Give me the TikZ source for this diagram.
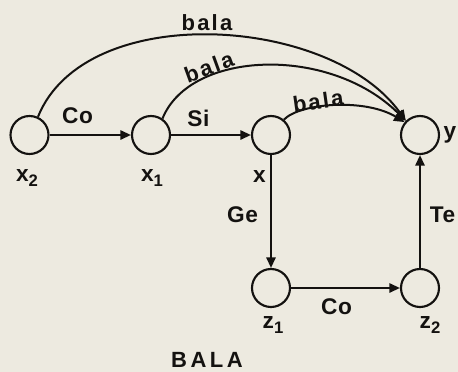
\documentclass[tikz,border=0pt]{standalone}
\usepackage{fontspec}
\setmainfont{Liberation Sans}
\usetikzlibrary{arrows.meta}
\definecolor{bgc}{RGB}{237,234,224}
\definecolor{ink}{RGB}{20,18,16}
\newcommand{\mysub}[1]{\raisebox{-0.45ex}{\fontsize{12.5}{13}\selectfont #1}}
\begin{document}
\begin{tikzpicture}[x=0.75pt,y=-0.75pt,
  st/.style={circle,draw=ink,line width=1.6pt,minimum size=28.5pt,inner sep=0pt},
  lbl/.style={text=ink,font=\bfseries\fontsize{17}{19}\selectfont\addfontfeature{LetterSpace=3},inner sep=0pt},
  bl/.style={lbl,font=\bfseries\fontsize{16.5}{18}\selectfont\addfontfeature{LetterSpace=10}},
  arr/.style={draw=ink,line width=1.5pt,-{Triangle[length=8pt,width=7pt]}},
  ln/.style={draw=ink,line width=1.5pt}]
\fill[bgc] (0,0) rectangle (458,372);
\useasboundingbox (0,0) rectangle (458,372);
% states
\node[st] (x2) at (29.5,135) {};
\node[st] (x1) at (151,135) {};
\node[st] (x)  at (271,135) {};
\node[st] (y)  at (420,135) {};
\node[st] (z1) at (271,288) {};
\node[st] (z2) at (420,288) {};
% state labels
\node[lbl] (lx2) at (27,178) {x\mysub{2}};
\node[lbl] (lx1) at (152,178) {x\mysub{1}};
\node[lbl] (lx)  at (259.5,177) {x};
\node[lbl] (ly)  at (450,135) {y};
\node[lbl] (lz1) at (273,325) {z\mysub{1}};
\node[lbl] (lz2) at (430,325) {z\mysub{2}};
% straight connectors
\draw[arr] (x2) -- (x1);
\draw[arr] (x1) -- (x);
\draw[arr] (x) -- (z1);
\draw[arr] (z1) -- (z2);
\draw[arr] (z2) -- (y);
% arcs
\draw[arr] (x2.65) .. controls (85,0) and (330,15) .. (y.135);
\draw[arr] (x1.55) .. controls (190,50) and (330,45) .. (y.135);
\draw[arr] (x.50) .. controls (300,103) and (365,98) .. (y.140);
% connector labels
\node[lbl] (lco1) at (77.5,115.5) {Co};
\node[lbl] (lsi)  at (198.5,118) {Si};
\node[lbl] (lge)  at (242.5,214.5) {Ge};
\node[lbl] (lte)  at (442.5,214.5) {Te};
\node[lbl] (lco2) at (336.5,307) {Co};
\node[bl] (b1) at (207,23) {bala};
\node[bl,rotate=20] (b2) at (209,67) {bala};
\node[bl,rotate=8] (b3) at (318,101) {bala};
% caption
\node[lbl,font=\bfseries\fontsize{16.5}{18}\selectfont\addfontfeature{LetterSpace=16}] (cap) at (207,360) {BALA};
\end{tikzpicture}
\end{document}
